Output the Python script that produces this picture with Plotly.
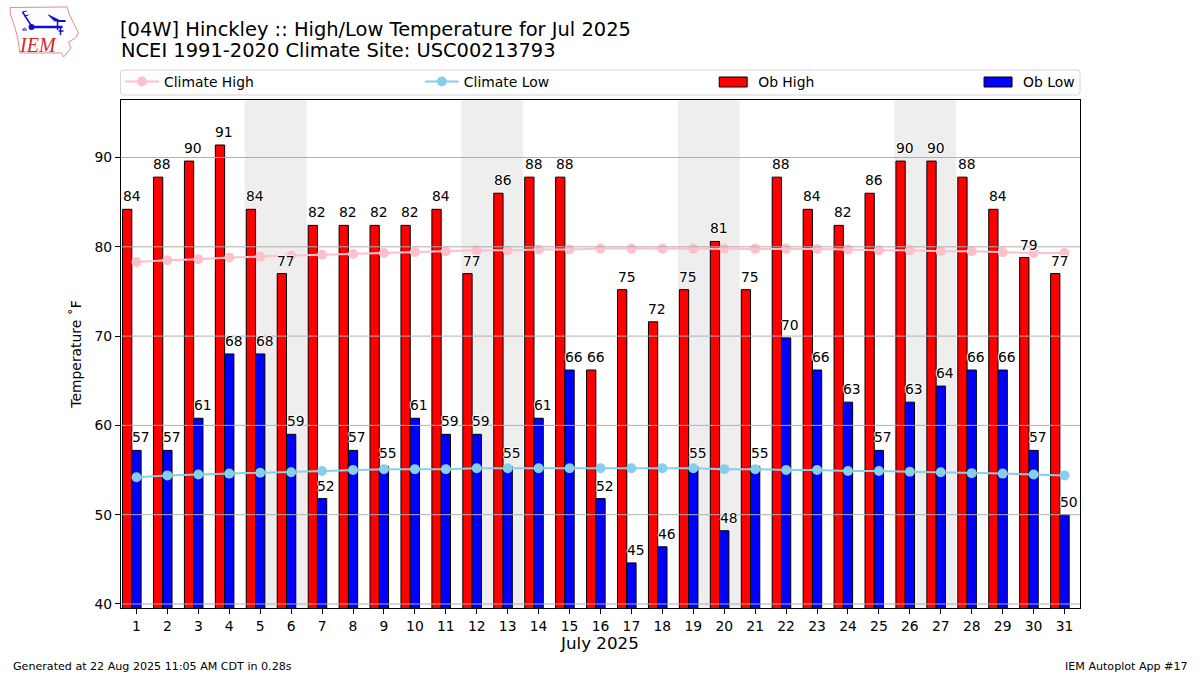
import plotly.graph_objects as go

days = list(range(1, 32))
ob_high = [84.2, 87.8, 89.6, 91.4, 84.2, 77, 82.4, 82.4, 82.4, 82.4, 84.2, 77, 86, 87.8, 87.8, 66.2,
           75.2, 71.6, 75.2, 80.6, 75.2, 87.8, 84.2, 82.4, 86, 89.6, 89.6, 87.8, 84.2, 78.8, 77]
ob_low = [57.2, 57.2, 60.8, 68, 68, 59, 51.8, 57.2, 55.4, 60.8, 59, 59, 55.4, 60.8, 66.2, 51.8,
          44.6, 46.4, 55.4, 48.2, 55.4, 69.8, 66.2, 62.6, 57.2, 62.6, 64.4, 66.2, 66.2, 57.2, 50]
climate_high = [78.3, 78.5, 78.6, 78.8, 78.9, 79.0, 79.1, 79.2, 79.3, 79.4, 79.5, 79.6, 79.6, 79.7, 79.7, 79.8,
                79.8, 79.8, 79.8, 79.8, 79.8, 79.8, 79.75, 79.7, 79.6, 79.6, 79.5, 79.5, 79.4, 79.3, 79.3]
climate_low = [54.2, 54.4, 54.5, 54.6, 54.7, 54.75, 54.9, 55.0, 55.1, 55.1, 55.1, 55.2, 55.2, 55.2, 55.2, 55.2,
               55.2, 55.2, 55.2, 55.1, 55.1, 55.0, 55.0, 54.9, 54.9, 54.8, 54.75, 54.65, 54.6, 54.5, 54.4]
weekends = [(4.5, 6.5), (11.5, 13.5), (18.5, 20.5), (25.5, 27.5)]
y_ticks = [40, 50, 60, 70, 80, 90]

FONT = "DejaVu Sans"
L, R, T, B = 120.5, 1080, 100, 608
W, H = R - L, B - T


# pixel position to paper coordinates, for the page furniture
def px(x):
    return (x - L) / W


def py(y):
    return (B - y) / H


def path(points, close=False):
    s = "M" + " L".join(f"{px(x):.4f},{py(y):.4f}" for x, y in points)
    return s + (" Z" if close else "")


halo = "1px 0 1px white, -1px 0 1px white, 0 1px 1px white, 0 -1px 1px white"

fig = go.Figure()

fig.add_trace(go.Bar(x=[d - 0.3 for d in days], y=ob_high, width=0.3, name="Ob High", showlegend=False, legendgroup="high",
                     marker=dict(color="red", line=dict(color="black", width=1))))
fig.add_trace(go.Bar(x=days, y=ob_low, width=0.3, name="Ob Low", showlegend=False, legendgroup="low",
                     marker=dict(color="blue", line=dict(color="black", width=1))))
fig.add_trace(go.Scatter(x=days, y=climate_high, name="Climate High", mode="lines+markers", legend="legend",
                         line=dict(color="pink", width=2), marker=dict(color="pink", size=10)))
fig.add_trace(go.Scatter(x=days, y=climate_low, name="Climate Low", mode="lines+markers", legend="legend2",
                         line=dict(color="skyblue", width=2), marker=dict(color="skyblue", size=10)))

# legend entries for the bars, plotly's own bar swatch is a small square so the swatch is a shape below
fig.add_trace(go.Scatter(x=[None], y=[None], name="Ob High", mode="lines", legend="legend3", legendgroup="high",
                         line=dict(color="rgba(0,0,0,0)", width=1)))
fig.add_trace(go.Scatter(x=[None], y=[None], name="Ob Low", mode="lines", legend="legend4", legendgroup="low",
                         line=dict(color="rgba(0,0,0,0)", width=1)))

shapes = []
for x0, x1 in weekends:
    shapes.append(dict(type="rect", xref="x", yref="paper", x0=x0, x1=x1, y0=0, y1=1,
                       fillcolor="#eeeeee", line_width=0, layer="below"))
# grid sits over the bars in the original
for t in y_ticks:
    shapes.append(dict(type="line", xref="paper", yref="y", x0=0, x1=1, y0=t, y1=t,
                       line=dict(color="#b0b0b0", width=1), layer="above"))

# legend frame
box = f"M{px(123):.4f},{py(70):.4f} L{px(1077):.4f},{py(70):.4f} Q{px(1080):.4f},{py(70):.4f} {px(1080):.4f},{py(73):.4f} " \
      f"L{px(1080):.4f},{py(92):.4f} Q{px(1080):.4f},{py(95):.4f} {px(1077):.4f},{py(95):.4f} L{px(123):.4f},{py(95):.4f} " \
      f"Q{px(120):.4f},{py(95):.4f} {px(120):.4f},{py(92):.4f} L{px(120):.4f},{py(73):.4f} Q{px(120):.4f},{py(70):.4f} {px(123):.4f},{py(70):.4f} Z"
shapes.append(dict(type="path", xref="paper", yref="paper", path=box, line=dict(color="#d5d5d5", width=1)))
for x0, color in ((719, "red"), (984, "blue")):
    shapes.append(dict(type="rect", xref="paper", yref="paper", x0=px(x0), x1=px(x0 + 28), y0=py(87), y1=py(77),
                       fillcolor=color, line=dict(color="black", width=1)))

# IEM logo drawn by hand
iowa = [(9.5, 7.5), (66.5, 7), (69, 15), (74, 25), (78, 33), (75, 38), (68, 42), (70.5, 48), (63, 57), (61, 53), (19.5, 53), (17, 37), (13, 23), (10, 15)]
shapes.append(dict(type="path", xref="paper", yref="paper", path=path(iowa, True), line=dict(color="#e58a8a", width=1)))
for seg, w in (([(31, 27), (62, 27)], 2.5), ([(31, 26), (22, 12)], 1.5), ([(22, 12), (26, 11)], 1), ([(24, 16), (28, 15)], 1),
               ([(56, 21), (65, 21)], 2), ([(57, 21), (57, 30)], 1.5), ([(60, 28), (60, 35)], 1.5), ([(58, 31), (63, 31)], 1.5)):
    shapes.append(dict(type="path", xref="paper", yref="paper", path=path(seg), line=dict(color="#1010d0", width=w)))
shapes.append(dict(type="path", xref="paper", yref="paper", path=path([(48, 15), (58, 20), (54, 21)], True),
                   fillcolor="#1010d0", line=dict(color="#1010d0", width=1)))
shapes.append(dict(type="circle", xref="paper", yref="paper", x0=px(28), x1=px(34), y0=py(24), y1=py(30),
                   fillcolor="#1010d0", line_width=0))
shapes.append(dict(type="path", xref="paper", yref="paper", path=path([(24, 28), (26, 30), (22, 30)], True),
                   line=dict(color="#1010d0", width=1)))

annotations = [
    dict(text="NCEI 1991-2020 Climate Site: USC00213793", x=px(118), y=py(50.5), xanchor="left", yanchor="middle",
         font=dict(size=19.44)),
    dict(text="Generated at 22 Aug 2025 11:05 AM CDT in 0.28s", x=px(10), y=py(666), xanchor="left", yanchor="middle",
         font=dict(size=11.1)),
    dict(text="IEM Autoplot App #17", x=px(1190), y=py(666), xanchor="right", yanchor="middle", font=dict(size=11.1)),
    dict(text="<i>IEM</i>", x=px(37), y=py(45), xanchor="center", yanchor="middle",
         font=dict(family="Liberation Serif", size=20, color="#d62828")),
    dict(text="July 2025", x=px(599), y=py(642.5), xanchor="center", yanchor="middle", font=dict(size=16.7)),
]
for a in annotations:
    a.update(xref="paper", yref="paper", showarrow=False)

# value labels start at the left edge of each bar
for offset, vals in ((-0.45, ob_high), (-0.15, ob_low)):
    for d, v in zip(days, vals):
        annotations.append(dict(x=d + offset, y=v, text=f"{v:.0f}", xref="x", yref="y", xanchor="left", yanchor="bottom",
                                xshift=-2, yshift=3, showarrow=False, font=dict(size=13.9, shadow=halo)))

legend_style = dict(orientation="h", yanchor="middle", y=py(82), xanchor="left", bgcolor="rgba(0,0,0,0)",
                    borderwidth=0, font=dict(size=13.9, family=FONT), traceorder="normal")

fig.update_layout(
    width=1200,
    height=675,
    autosize=False,
    margin=dict(l=L, r=1200 - R, t=T, b=675 - B, pad=0),
    paper_bgcolor="white",
    plot_bgcolor="white",
    font=dict(family=FONT, color="black", size=13.9),
    barmode="overlay",
    title=dict(text="[04W] Hinckley :: High/Low Temperature for Jul 2025", x=120 / 1200, xanchor="left",
               y=1 - 29 / 675, yanchor="middle", font=dict(size=19.44)),
    legend=dict(legend_style, x=px(119.5), itemwidth=34),
    legend2=dict(legend_style, x=px(419.5), itemwidth=34),
    legend3=dict(legend_style, x=px(710), itemwidth=38),
    legend4=dict(legend_style, x=px(975), itemwidth=38),
    shapes=shapes,
    annotations=annotations,
    xaxis=dict(range=[0.5, 31.5], tickmode="array", tickvals=days, ticks="outside", ticklen=5, tickwidth=1, tickcolor="black",
               showgrid=False, zeroline=False, showline=True, linecolor="black", linewidth=1, mirror=True),
    yaxis=dict(range=[39.55, 96.44], tickmode="array", tickvals=y_ticks, ticks="outside", ticklen=5, tickwidth=1, tickcolor="black",
               showgrid=False, zeroline=False, showline=True, linecolor="black", linewidth=1, mirror=True,
               title=dict(text="Temperature ˚F", font=dict(size=13.9), standoff=9)),
)

fig.write_html("out.html", config={"displayModeBar": False}, post_script="document.body.style.margin = '0';")
